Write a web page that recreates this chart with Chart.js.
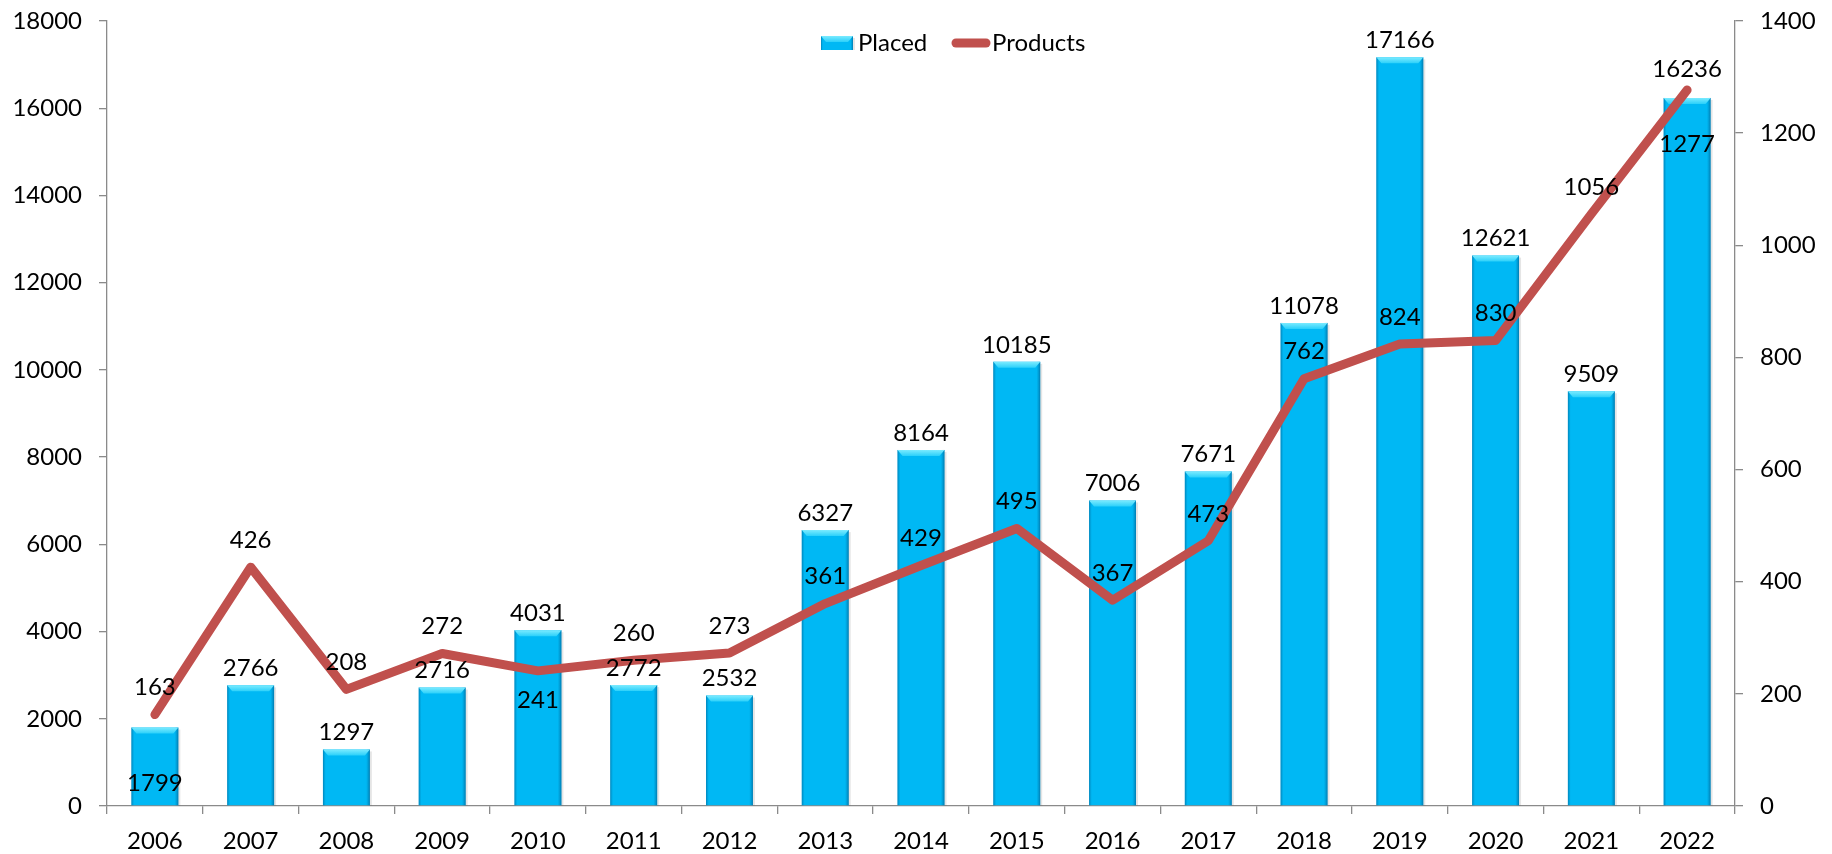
<!DOCTYPE html>
<html>
<head>
<meta charset="utf-8">
<title>Placed / Products</title>
<script src="https://cdn.jsdelivr.net/npm/chart.js@4.4.1/dist/chart.umd.min.js"></script>
<style>
  html, body { margin: 0; padding: 0; background: #ffffff; }
  #wrap { width: 1832px; height: 854px; }
</style>
</head>
<body>
<div id="wrap"><canvas id="myChart" width="1832" height="854"></canvas></div>
<script>
// data
const years = ['2006', '2007', '2008', '2009', '2010', '2011', '2012', '2013', '2014',
  '2015', '2016', '2017', '2018', '2019', '2020', '2021', '2022'];
const placed = [1799, 2766, 1297, 2716, 4031, 2772, 2532, 6327, 8164, 10185, 7006, 7671,
  11078, 17166, 12621, 9509, 16236];
const products = [163, 426, 208, 272, 241, 260, 273, 361, 429, 495, 367, 473, 762, 824,
  830, 1056, 1277];
const leftMax = 18000, leftStep = 2000;
const rightMax = 1400, rightStep = 200;

const FONT = 'Lato, "Open Sans", sans-serif';
const FSIZE = 24;
const BAR = '#00B8F4';
const LINE = '#C0504D';
const AXIS = '#8a8a8a';

// label placement tweaks (the original had a few labels moved by hand)
const barLabelSpecial = { 0: 'base', 16: 'high' };
const lineLabelSpecial = { 4: 'below', 16: 'below2' };

function bevelBar(ctx, left, top, w, bottom) {
  const h = bottom - top;
  if (h <= 0) return;
  // side shading
  let g = ctx.createLinearGradient(left, 0, left + w, 0);
  g.addColorStop(0, 'rgba(0,90,140,0.55)');
  g.addColorStop(0.06, 'rgba(0,120,170,0.0)');
  g.addColorStop(0.92, 'rgba(0,120,170,0.0)');
  g.addColorStop(1, 'rgba(0,80,130,0.6)');
  ctx.fillStyle = g;
  ctx.fillRect(left, top, w, h);
  // top bevel
  const b = Math.min(6, h);
  g = ctx.createLinearGradient(0, top, 0, top + b);
  g.addColorStop(0, '#7BEBFF');
  g.addColorStop(1, '#2BD0FA');
  ctx.fillStyle = g;
  ctx.beginPath();
  ctx.moveTo(left, top);
  ctx.lineTo(left + w, top);
  ctx.lineTo(left + w - 5, top + b);
  ctx.lineTo(left + 5, top + b);
  ctx.closePath();
  ctx.fill();
  // soft shadow on the right
  ctx.fillStyle = 'rgba(0,0,0,0.10)';
  ctx.fillRect(left + w, top + 2, 2, h - 2);
}

const bevelPlugin = {
  id: 'bevel',
  afterDatasetDraw(chart, args) {
    if (args.index !== 0) return;
    const ctx = chart.ctx;
    ctx.save();
    args.meta.data.forEach(el => {
      bevelBar(ctx, el.x - el.width / 2, el.y, el.width, el.base);
    });
    ctx.restore();
  }
};

const labelPlugin = {
  id: 'valueLabels',
  afterDatasetsDraw(chart) {
    const ctx = chart.ctx;
    ctx.save();
    ctx.font = FSIZE + 'px ' + FONT;
    ctx.fillStyle = '#000';
    ctx.textAlign = 'center';
    ctx.textBaseline = 'middle';
    chart.getDatasetMeta(0).data.forEach((el, i) => {
      let y = el.y - 17;
      if (barLabelSpecial[i] === 'base') y = el.base - 22;
      if (barLabelSpecial[i] === 'high') y = el.y - 29;
      ctx.fillText(String(placed[i]), el.x, y);
    });
    chart.getDatasetMeta(1).data.forEach((el, i) => {
      let y = el.y - 27;
      if (lineLabelSpecial[i] === 'below') y = el.y + 29;
      if (lineLabelSpecial[i] === 'below2') y = el.y + 54;
      ctx.fillText(String(products[i]), el.x, y);
    });
    ctx.restore();
  }
};

const legendPlugin = {
  id: 'topLegend',
  afterDraw(chart) {
    const ctx = chart.ctx;
    const a = chart.chartArea;
    const x0 = a.left + 714, cy = a.top + 22;
    ctx.save();
    ctx.fillStyle = BAR;
    ctx.fillRect(x0, cy - 7, 32, 14);
    bevelBar(ctx, x0, cy - 7, 32, cy + 7);
    ctx.font = FSIZE + 'px ' + FONT;
    ctx.fillStyle = '#000';
    ctx.textAlign = 'left';
    ctx.textBaseline = 'middle';
    ctx.fillText('Placed', x0 + 37, cy);
    ctx.strokeStyle = LINE;
    ctx.lineWidth = 9;
    ctx.lineCap = 'round';
    ctx.beginPath();
    ctx.moveTo(x0 + 135, cy);
    ctx.lineTo(x0 + 165, cy);
    ctx.stroke();
    ctx.fillText('Products', x0 + 171, cy);
    ctx.restore();
  }
};

const tickFont = { family: FONT, size: FSIZE };
const plain = v => String(v);

new Chart(document.getElementById('myChart'), {
  data: {
    labels: years,
    datasets: [
      {
        type: 'bar',
        label: 'Placed',
        data: placed,
        yAxisID: 'y',
        backgroundColor: BAR,
        categoryPercentage: 1,
        barPercentage: 0.49,
        order: 2
      },
      {
        type: 'line',
        label: 'Products',
        data: products,
        yAxisID: 'y1',
        borderColor: LINE,
        borderWidth: 9,
        borderCapStyle: 'round',
        borderJoinStyle: 'round',
        pointRadius: 0,
        tension: 0,
        order: 1
      }
    ]
  },
  options: {
    responsive: false,
    devicePixelRatio: 1,
    animation: false,
    layout: { padding: { left: 6, right: 2, top: 21, bottom: 0 } },
    plugins: { legend: { display: false }, tooltip: { enabled: false } },
    scales: {
      x: {
        offset: true,
        grid: { offset: true, drawOnChartArea: false, drawTicks: true, tickLength: 8, color: AXIS, lineWidth: 1.3 },
        border: { color: AXIS, width: 1.3 },
        ticks: { font: tickFont, color: '#000', padding: 13, maxRotation: 0, autoSkip: false },
        afterFit(s) { s.height = 48; s.paddingLeft = 0; s.paddingRight = 0; }
      },
      y: {
        position: 'left',
        min: 0,
        max: leftMax,
        grid: { drawOnChartArea: false, tickLength: 8, color: AXIS, lineWidth: 1.3 },
        border: { color: AXIS, width: 1.3 },
        ticks: { stepSize: leftStep, font: tickFont, color: '#000', padding: 17, callback: plain },
        afterFit(s) { s.width = 101; s.paddingTop = 0; s.paddingBottom = 0; }
      },
      y1: {
        position: 'right',
        min: 0,
        max: rightMax,
        grid: { drawOnChartArea: false, tickLength: 8, color: AXIS, lineWidth: 1.3 },
        border: { color: AXIS, width: 1.3 },
        ticks: { stepSize: rightStep, font: tickFont, color: '#000', padding: 17, callback: plain },
        afterFit(s) { s.width = 95; s.paddingTop = 0; s.paddingBottom = 0; }
      }
    }
  },
  plugins: [bevelPlugin, labelPlugin, legendPlugin]
});
</script>
</body>
</html>
